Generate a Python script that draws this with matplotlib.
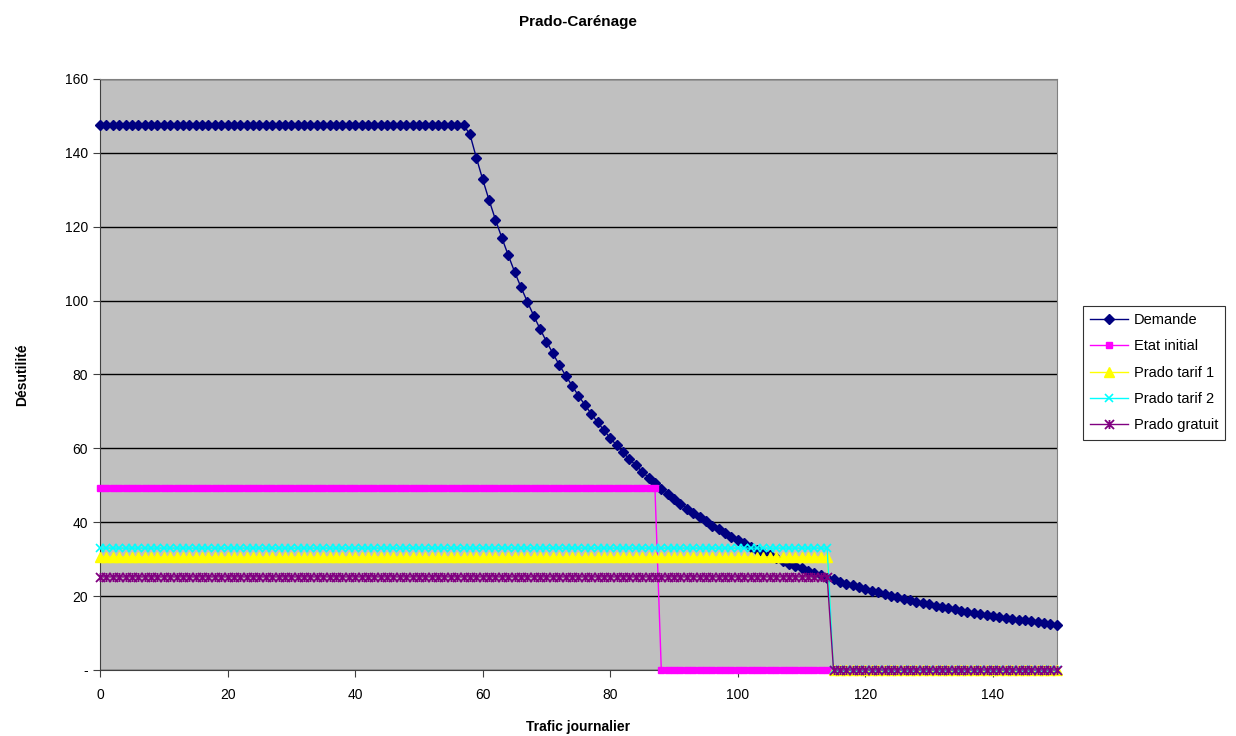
import numpy as np
import matplotlib.pyplot as plt
from matplotlib.path import Path

plt.rcParams['font.family'] = ['Liberation Sans', 'DejaVu Sans']

# Trafic journalier (axe des x)
trafic = list(range(0, 151))

demande = [147.5] * 58 + [
    145.0, 138.7, 132.8, 127.2, 121.9, 117.0, 112.3, 107.8, 103.6, 99.7,
    95.9, 92.3, 88.9, 85.7, 82.6, 79.7, 77.0, 74.3, 71.8, 69.4,
    67.1, 64.9, 62.8, 60.8, 58.9, 57.1, 55.4, 53.7, 52.1, 50.5,
    49.1, 47.6, 46.3, 45.0, 43.7, 42.5, 41.3, 40.2, 39.1, 38.1,
    37.1, 36.1, 35.2, 34.3, 33.4, 32.6, 31.8, 31.0, 30.2, 29.5,
    28.8, 28.1, 27.5, 26.8, 26.2, 25.6, 25.0, 24.5, 23.9, 23.4,
    22.9, 22.4, 21.9, 21.4, 21.0, 20.5, 20.1, 19.7, 19.3, 18.9,
    18.5, 18.1, 17.8, 17.4, 17.1, 16.8, 16.4, 16.1, 15.8, 15.5,
    15.2, 14.9, 14.7, 14.4, 14.1, 13.9, 13.6, 13.4, 13.2, 12.9,
    12.7, 12.5, 12.3,
]

# Niveaux des scénarios (palier puis zéro)
etat_initial = [49.3] * 88 + [0] * 27 + [np.nan] * 36
prado_tarif1 = [30.6] * 115 + [0] * 36
prado_tarif2 = [33.0] * 115 + [0] * 36
prado_gratuit = [25.2] * 115 + [0] * 36

# astérisque façon Excel : une croix + un trait vertical
asterisque = Path(
    [(-1, -1), (1, 1), (-1, 1), (1, -1), (0, -1), (0, 1)],
    [Path.MOVETO, Path.LINETO] * 3,
)

fig = plt.figure(figsize=(12.36, 7.36), dpi=100)
ax = fig.add_axes([0.0809, 0.0897, 0.855 - 0.0809, 0.8927 - 0.0897])
ax.set_facecolor('#C0C0C0')

# clip_on=False : les marqueurs posés sur zéro restent entiers
ax.plot(trafic, demande, color='#000080', lw=1, marker='D', ms=4.6,
        mec='#000080', label='Demande', zorder=3, clip_on=False)
ax.plot(trafic, etat_initial, color='#FF00FF', lw=1, marker='s', ms=4.8,
        mec='#FF00FF', label='Etat initial', zorder=4, clip_on=False)
ax.plot(trafic, prado_tarif1, color='#FFFF00', lw=1, marker='^', ms=6.5,
        mec='#FFFF00', label='Prado tarif 1', zorder=5, clip_on=False)
ax.plot(trafic, prado_tarif2, color='#00FFFF', lw=1, marker='x', ms=5.5,
        mew=1.2, label='Prado tarif 2', zorder=6, clip_on=False)
ax.plot(trafic, prado_gratuit, color='#800080', lw=1, marker=asterisque, ms=6.5,
        mew=1.3, label='Prado gratuit', zorder=7, clip_on=False)

ax.set_xlim(0, 150)
ax.set_ylim(0, 160)
ax.set_xticks(range(0, 141, 20))
ax.set_yticks(range(0, 161, 20))
ax.set_yticklabels(['-'] + [str(v) for v in range(20, 161, 20)])
ax.yaxis.grid(True, color='black', lw=1)
ax.set_axisbelow(True)
ax.tick_params(labelsize=10, length=5, color='#404040')
ax.tick_params(axis='x', pad=8)

for side in ['top', 'right']:
    ax.spines[side].set_color('#808080')
for side in ['left', 'bottom']:
    ax.spines[side].set_color('#404040')

ax.set_title('Prado-Carénage', fontsize=11, fontweight='bold', pad=38)
ax.set_xlabel('Trafic journalier', fontsize=10, fontweight='bold', labelpad=13)
ax.set_ylabel('Désutilité', fontsize=10, fontweight='bold', labelpad=26)

leg = ax.legend(loc='center left', bbox_to_anchor=(1.02, 0.503), fontsize=10.5,
                frameon=True, fancybox=False, edgecolor='black',
                borderpad=0.5, handlelength=2.6, labelspacing=0.85,
                handletextpad=0.35, markerscale=1.0)
leg.get_frame().set_linewidth(0.8)

fig.savefig('out.png', dpi=100)
